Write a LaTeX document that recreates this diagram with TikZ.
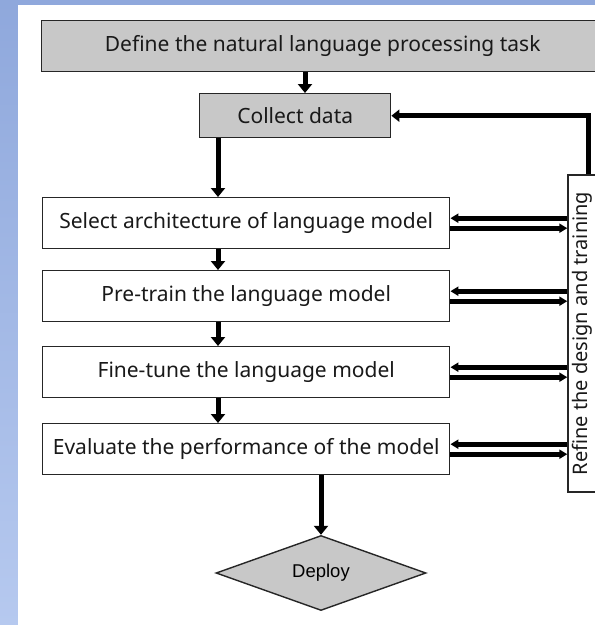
\documentclass[tikz,border=0pt]{standalone}
\usepackage{fontspec}
\setmainfont{Noto Sans}
\newfontfamily\deployfont{Liberation Sans}
\usetikzlibrary{arrows.meta,shapes.geometric}
\definecolor{boxgray}{HTML}{C8C8C8}
\definecolor{edge}{HTML}{262626}
\definecolor{bluetop}{HTML}{8FA8DC}
\definecolor{bluebot}{HTML}{B6C9EF}
\tikzset{
  stepbox/.style={draw=edge, line width=1.4pt, rectangle, inner sep=0pt,
    font=\fontsize{21}{24}\selectfont, text=black!90},
  graybox/.style={stepbox, fill=boxgray},
  whitebox/.style={stepbox, fill=white},
  flow/.style={line width=5pt, -{Triangle[width=14pt,length=9pt]}},
  side/.style={line width=4.6pt, -{Triangle[width=9pt,length=8pt]}},
}
\begin{document}
\begin{tikzpicture}[x=1pt,y=-1pt]
  \useasboundingbox (0,0) rectangle (595,625);
  \clip (0,0) rectangle (595,625);
  % page background
  \shade[top color=bluetop, bottom color=bluebot] (0,0) rectangle (595,625);
  \fill[white] (18,5) rectangle (600,630);

  % process steps
  \node[graybox, minimum width=562pt, minimum height=51pt, anchor=north west]
    (task) at (41,20) {Define the natural language processing task};
  \node[graybox, minimum width=191pt, minimum height=44pt, anchor=north west]
    (collect) at (199,93) {Collect data};
  \node[whitebox, minimum width=407pt, minimum height=51pt, anchor=north west]
    (arch) at (42,197) {Select architecture of language model};
  \node[whitebox, minimum width=407pt, minimum height=51pt, anchor=north west]
    (pre) at (42,270) {Pre-train the language model};
  \node[whitebox, minimum width=407pt, minimum height=51pt, anchor=north west]
    (fine) at (42,346) {Fine-tune the language model};
  \node[whitebox, minimum width=407pt, minimum height=51pt, anchor=north west]
    (eval) at (42,423) {Evaluate the performance of the model};

  % feedback box, with its text reading upwards
  \node[whitebox, rotate=90, minimum width=317pt, minimum height=40pt]
    (refine) at (588,333.5) {};
  \node[rotate=90, inner sep=0pt, font=\fontsize{20}{24}\selectfont, text=black!90]
    (refinetext) at (582,333.5) {Refine the design and training};

  % deployment decision
  \node[draw=edge, line width=1.4pt, fill=boxgray, diamond, aspect=2.8,
    minimum width=210pt, minimum height=75pt, inner sep=0pt,
    font=\deployfont\fontsize{18.5}{22}\selectfont]
    (deploy) at (321,573) {Deploy};

  % main flow
  \draw[flow] (task.south -| 305,0) -- (collect.north -| 305,0);
  \draw[flow] (collect.south -| 218,0) -- (arch.north -| 218,0);
  \draw[flow] (arch.south -| 218,0) -- (pre.north -| 218,0);
  \draw[flow] (pre.south -| 218,0) -- (fine.north -| 218,0);
  \draw[flow] (fine.south -| 218,0) -- (eval.north -| 218,0);
  \draw[flow] (eval.south -| deploy.north) -- (deploy.north);

  % feedback loop to data collection
  \draw[line width=5pt, -{Triangle[width=12pt,length=8pt]}]
    (refine.east) |- (collect.east);

  % exchanges with the refinement box
  \foreach \s in {arch,pre,fine,eval}{
    \draw[side] ([yshift=5pt]\s.east -| refine.north) -- ([yshift=5pt]\s.east);
    \draw[side] ([yshift=-5pt]\s.east) -- ([yshift=-5pt]\s.east -| refine.north);
  }
\end{tikzpicture}
\end{document}
